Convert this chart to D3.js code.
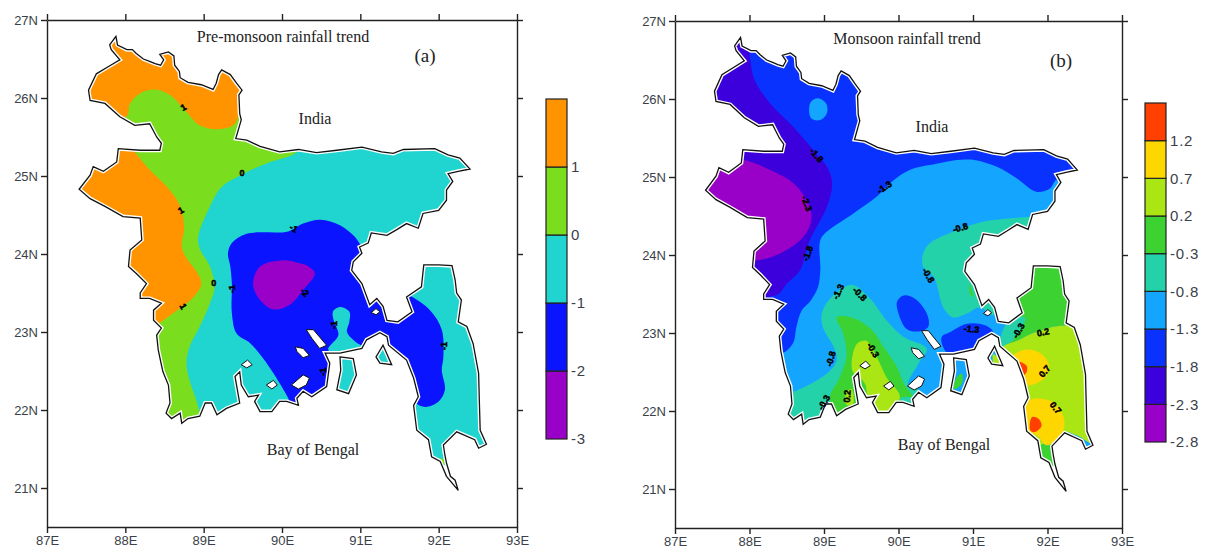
<!DOCTYPE html>
<html>
<head>
<meta charset="utf-8">
<script src="https://cdn.jsdelivr.net/npm/d3@7"></script>
<style>
html, body { margin: 0; padding: 0; background: #fff; }
svg { display: block; }
</style>
</head>
<body>
<div id="chart"></div>
<script>
// all shapes are [lon, lat]
var coast = [[87.88,26.79],[87.90,26.68],[88.02,26.62],[88.09,26.62],[88.14,26.57],[88.23,26.50],[88.31,26.47],[88.38,26.44],[88.45,26.42],[88.49,26.49],[88.44,26.56],[88.55,26.59],[88.62,26.54],[88.63,26.42],[88.69,26.34],[88.70,26.26],[88.80,26.20],[88.97,26.17],[89.12,26.11],[89.16,26.19],[89.19,26.30],[89.23,26.36],[89.34,26.30],[89.42,26.19],[89.49,26.10],[89.45,26.04],[89.46,25.80],[89.48,25.72],[89.41,25.48],[89.55,25.46],[89.72,25.38],[89.97,25.31],[90.21,25.34],[90.44,25.30],[90.70,25.33],[91.02,25.37],[91.27,25.31],[91.42,25.29],[91.55,25.34],[91.95,25.35],[92.12,25.27],[92.27,25.23],[92.40,25.09],[92.25,25.06],[92.12,25.03],[92.18,24.93],[92.10,24.82],[92.10,24.69],[92.00,24.56],[91.80,24.52],[91.74,24.33],[91.59,24.39],[91.46,24.31],[91.34,24.24],[91.14,24.27],[91.10,24.14],[90.99,24.09],[91.02,24.01],[90.91,23.90],[90.89,23.79],[91.02,23.62],[91.12,23.35],[91.21,23.43],[91.29,23.33],[91.34,23.15],[91.48,23.13],[91.66,23.26],[91.59,23.45],[91.78,23.58],[91.81,23.86],[92.00,23.86],[92.17,23.85],[92.21,23.67],[92.23,23.50],[92.29,23.41],[92.25,23.13],[92.36,23.07],[92.44,22.85],[92.51,22.47],[92.52,22.09],[92.53,21.74],[92.61,21.56],[92.51,21.51],[92.46,21.62],[92.23,21.72],[92.06,21.55],[92.08,21.42],[92.10,21.32],[92.15,21.15],[92.21,21.10],[92.25,20.97],[92.10,21.15],[92.02,21.34],[91.91,21.40],[91.87,21.62],[91.72,21.74],[91.68,22.06],[91.74,22.17],[91.68,22.41],[91.59,22.64],[91.36,22.83],[91.34,22.94],[91.25,22.99],[91.08,22.90],[91.02,22.79],[90.74,22.73],[90.55,22.73],[90.61,22.60],[90.57,22.30],[90.38,22.17],[90.27,22.24],[90.19,22.15],[90.21,22.06],[90.06,22.11],[89.97,22.11],[89.87,21.98],[89.72,21.98],[89.65,22.11],[89.70,22.19],[89.57,22.17],[89.48,22.32],[89.46,22.49],[89.40,22.43],[89.46,22.09],[89.29,22.02],[89.17,21.94],[89.10,22.09],[89.02,22.09],[88.95,21.92],[88.80,21.89],[88.72,21.83],[88.70,21.96],[88.59,21.89],[88.52,21.96],[88.57,22.09],[88.55,22.32],[88.48,22.49],[88.46,22.58],[88.42,22.77],[88.40,22.96],[88.46,23.05],[88.36,23.15],[88.36,23.28],[88.46,23.37],[88.31,23.43],[88.19,23.43],[88.19,23.50],[88.27,23.62],[88.14,23.75],[88.04,23.84],[88.06,24.05],[88.21,24.18],[88.19,24.46],[87.97,24.48],[87.74,24.61],[87.55,24.71],[87.41,24.83],[87.55,25.01],[87.59,25.12],[87.72,25.06],[87.89,25.18],[87.91,25.35],[88.19,25.33],[88.44,25.33],[88.46,25.42],[88.40,25.50],[88.31,25.67],[88.12,25.65],[87.93,25.76],[87.74,25.93],[87.55,25.97],[87.53,26.10],[87.63,26.31],[87.78,26.40],[87.93,26.49],[87.82,26.62],[87.80,26.68]];
var bhola = [[90.74,22.68],[90.91,22.66],[90.95,22.45],[90.85,22.21],[90.70,22.26],[90.75,22.51]];
var sandwip = [[91.29,22.83],[91.40,22.58],[91.25,22.60],[91.20,22.68]];
var holes = [
    [[90.31,23.03],[90.40,23.03],[90.57,22.83],[90.48,22.79],[90.38,22.92]],
    [[90.17,22.81],[90.27,22.79],[90.35,22.70],[90.27,22.67],[90.19,22.75]],
    [[90.12,22.32],[90.27,22.45],[90.35,22.41],[90.31,22.32],[90.21,22.27]],
    [[89.48,22.58],[89.56,22.64],[89.62,22.58],[89.55,22.54]],
    [[89.80,22.32],[89.89,22.38],[89.94,22.32],[89.87,22.27]],
    [[91.14,23.25],[91.20,23.30],[91.25,23.26],[91.20,23.22]]
];
var tipBlank = [[91.90,21.33],[92.13,21.28],[92.40,21.28],[92.40,20.90],[91.90,20.90]];

// panel a contours
var preGreen = [[90.23,25.50],[90.19,25.31],[89.80,25.16],[89.51,25.03],[89.23,24.86],[89.08,24.61],[88.93,24.22],[88.95,24.07],[89.08,23.84],[89.14,23.58],[89.08,23.37],[88.95,23.07],[88.82,22.81],[88.78,22.60],[88.82,22.38],[88.95,21.96],[88.95,21.60],[87.20,21.60],[87.20,26.90],[90.23,26.90]];
var preOrangeNorth = [[88.01,25.76],[88.06,25.93],[88.19,26.06],[88.38,26.11],[88.57,26.04],[88.74,25.87],[88.95,25.65],[89.16,25.60],[89.38,25.65],[89.48,25.83],[89.70,26.00],[89.70,26.90],[87.20,26.90],[87.20,25.76]];
var preOrangeWest = [[88.06,25.38],[88.10,25.33],[88.31,25.08],[88.55,24.84],[88.70,24.61],[88.75,24.35],[88.72,24.09],[88.78,23.95],[88.91,23.77],[88.97,23.62],[88.87,23.45],[88.61,23.24],[88.43,23.11],[88.36,23.05],[87.20,23.05],[87.20,25.38]];
var preBlue = [[90.08,24.29],[90.27,24.39],[90.49,24.44],[90.74,24.37],[90.93,24.22],[91.02,24.09],[91.06,24.05],[91.17,23.67],[91.51,23.54],[91.63,23.47],[91.89,23.28],[92.04,23.03],[92.06,22.68],[92.04,22.51],[92.08,22.26],[92.00,22.11],[91.83,22.04],[91.70,22.10],[91.63,22.38],[91.51,22.64],[91.36,22.81],[91.25,23.00],[91.02,22.81],[90.74,22.77],[90.62,22.74],[90.66,22.60],[90.64,22.00],[90.14,22.00],[90.08,22.15],[89.89,22.47],[89.76,22.66],[89.59,22.86],[89.42,22.98],[89.36,23.24],[89.36,23.62],[89.34,23.84],[89.31,24.01],[89.36,24.14],[89.55,24.26]];
var preCyanIslet = [[90.74,23.32],[90.86,23.26],[90.86,23.13],[90.83,23.00],[90.93,22.88],[91.04,22.79],[90.87,22.68],[90.59,22.77],[90.72,22.96],[90.66,23.15],[90.65,23.26]];
var prePurple = [[90.02,23.92],[89.72,23.84],[89.63,23.62],[89.72,23.41],[89.89,23.29],[90.10,23.35],[90.27,23.54],[90.42,23.75],[90.34,23.84],[90.23,23.88]];
var preGreenTip = [[91.98,21.38],[92.08,21.36],[92.07,21.30]];

// panel b contours
var monIndigo = [[88.01,26.50],[88.07,26.24],[88.28,25.94],[88.59,25.64],[88.86,25.34],[89.04,25.13],[89.11,24.92],[89.04,24.62],[88.81,24.19],[88.70,23.85],[88.66,23.78],[88.50,23.63],[88.39,23.50],[88.19,23.46],[87.20,23.46],[87.20,26.90],[87.95,26.90]];
var monPurple = [[87.90,25.22],[88.28,25.09],[88.59,24.92],[88.79,24.66],[88.83,24.45],[88.72,24.23],[88.45,24.04],[88.10,23.93],[87.20,23.93],[87.20,25.22]];
var monLightBlue = [[88.95,23.80],[88.92,23.59],[88.81,23.40],[88.70,23.29],[88.63,23.08],[88.59,22.88],[88.48,22.76],[88.27,22.69],[88.27,21.58],[92.70,21.58],[92.70,24.83],[92.21,24.83],[92.12,24.96],[92.03,24.85],[91.85,24.81],[91.59,24.98],[91.32,25.13],[91.00,25.22],[90.83,25.22],[90.51,25.17],[90.15,25.09],[89.91,24.94],[89.71,24.75],[89.39,24.53],[89.04,24.30],[88.95,24.19]];
var monBlob = [[88.92,26.01],[89.03,25.94],[89.04,25.82],[88.95,25.73],[88.83,25.75],[88.80,25.88],[88.83,25.97]];
var monTeal = [[91.77,24.49],[91.50,24.47],[91.10,24.42],[90.74,24.30],[90.42,24.15],[90.33,24.02],[90.33,23.85],[90.47,23.72],[90.51,23.63],[90.60,23.33],[90.73,23.20],[90.92,23.25],[91.09,23.33],[91.27,23.23],[91.35,23.50],[91.50,24.00],[91.85,24.35],[91.85,24.50]];
var monTealDelta = [[89.37,23.62],[89.08,23.44],[88.97,23.25],[88.99,23.06],[89.13,22.82],[89.17,22.65],[89.04,22.48],[88.63,22.26],[88.50,22.22],[88.50,21.75],[90.33,21.75],[90.31,22.24],[90.13,22.33],[90.27,22.61],[90.38,22.80],[90.07,22.95],[89.84,23.16],[89.62,23.44]];
var monGreenDelta = [[89.17,23.20],[89.37,23.20],[89.62,23.06],[89.80,22.82],[89.98,22.56],[90.07,22.35],[90.18,22.19],[90.02,22.16],[90.02,21.75],[89.15,21.75],[89.13,21.97],[89.08,22.18],[89.21,22.43],[89.30,22.69],[89.26,22.99]];
var monLimeDelta = [[89.44,22.86],[89.57,22.90],[89.71,22.69],[89.84,22.43],[90.02,22.18],[89.84,21.97],[89.62,21.97],[89.55,22.35],[89.38,22.52]];
var monLimeSpot = [[89.30,22.24],[89.37,22.28],[89.39,22.09],[89.30,22.08]];
var monLake = [[90.07,23.48],[90.22,23.44],[90.38,23.25],[90.40,23.08],[90.27,23.02],[90.11,23.05],[90.00,23.25],[89.98,23.40]];
var monBand = [[90.58,22.95],[90.69,23.01],[90.92,23.12],[91.16,23.10],[91.27,23.01],[91.16,22.82],[90.87,22.71],[90.71,22.69],[90.60,22.82]];
var monGreenEast = [[91.76,23.89],[92.30,23.89],[92.39,23.12],[92.28,23.10],[92.08,23.08],[91.81,23.00],[91.59,22.90],[91.40,22.82],[91.59,23.16],[91.63,23.55]];
var monTealEast = [[91.47,23.14],[91.70,23.20],[91.65,23.05],[91.39,22.80],[91.36,22.88]];
var monLimeEast = [[92.70,23.12],[92.28,23.10],[92.08,23.08],[91.81,23.00],[91.59,22.90],[91.40,22.82],[91.30,22.60],[91.50,21.54],[91.94,21.54],[92.10,21.56],[92.21,21.73],[92.39,21.69],[92.66,21.58]];
var monGreenTip = [[91.90,21.56],[92.12,21.55],[92.12,21.25],[91.92,21.30]];
var monYellowNorth = [[91.56,22.73],[91.74,22.79],[91.92,22.73],[92.02,22.58],[91.97,22.43],[91.76,22.33],[91.68,22.35],[91.59,22.56],[91.50,22.60]];
var monYellowSouth = [[91.70,22.11],[91.86,22.16],[92.08,22.11],[92.21,21.94],[92.21,21.75],[91.99,21.56],[91.86,21.69],[91.72,21.75],[91.68,21.98]];
var monRedNorth = [[91.61,22.63],[91.72,22.58],[91.72,22.50],[91.65,22.44],[91.60,22.52]];
var monRedSouth = [[91.79,21.92],[91.88,21.90],[91.92,21.81],[91.83,21.73],[91.77,21.75]];
var monBholaGreen = [[90.78,22.43],[90.85,22.48],[90.85,22.35],[90.74,22.28]];
var monSandwipLime = [[91.27,22.73],[91.36,22.65],[91.36,22.58],[91.28,22.60]];
var monGreenSliver = [[90.95,23.63],[91.01,23.46],[90.96,23.50]];

// contour labels: [lon, lat, text, angle]
var preLabels = [[88.74,25.88,"1",-30],[89.49,25.04,"0",0],[88.71,24.56,"1",-30],[90.15,24.33,"-1",30],[88.74,23.33,"1",60],[89.13,23.63,"0",0],[89.36,23.55,"-1",-90],[90.29,23.51,"-2",45],[90.66,23.09,"-1",-90],[92.07,22.82,"-1",-90],[90.52,22.49,"-1",-90]];
var monLabels = [[88.90,25.28,"-1.8",50],[89.81,24.87,"-1.3",-35],[88.77,24.66,"-2.3",70],[88.78,24.02,"-1.8",-70],[90.83,24.35,"-0.8",-15],[90.40,23.74,"-0.8",60],[89.19,23.53,"-1.3",-65],[89.48,23.50,"-0.8",45],[89.09,22.67,"-0.8",-75],[89.66,22.78,"-0.3",60],[89.00,22.11,"-0.3",-60],[89.31,22.19,"0.2",-85],[90.98,23.05,"-1.3",5],[91.61,23.03,"-0.3",-60],[91.94,23.01,"0.2",-10],[91.96,22.51,"0.7",-50],[92.11,22.04,"0.7",50]];

// colour bars
var preLevels = [-3,-2,-1,0,1,2];
var preColors = ["#9900c8","#0a14ff","#20d4d0","#7add1e","#ff9400"];
var monLevels = [-2.8,-2.3,-1.8,-1.3,-0.8,-0.3,0.2,0.7,1.2,1.7];
var monColors = ["#9900c8","#3c00dc","#0a32ff","#14a5ff","#24d2aa","#3cd232","#aae614","#ffd700","#ff4000"];

var lonTicks = [87,88,89,90,91,92,93];
var latTicks = [21,22,23,24,25,26,27];

var svg = d3.select("#chart").append("svg").attr("width", 1206).attr("height", 552);

function drawPanel(cfg) {
    var x = d3.scaleLinear().domain([87, 93]).range([cfg.left, cfg.right]);
    var y = d3.scaleLinear().domain([20.5, 27]).range([cfg.bottom, cfg.top]);
    var g = svg.append("g");

    var straight = d3.line().x(function(d) { return x(d[0]); }).y(function(d) { return y(d[1]); }).curve(d3.curveLinearClosed);
    var smooth = d3.line().x(function(d) { return x(d[0]); }).y(function(d) { return y(d[1]); }).curve(d3.curveCatmullRomClosed.alpha(0.5));

    g.append("clipPath").attr("id", cfg.id + "-land")
        .append("path").attr("d", straight(coast) + straight(bhola) + straight(sandwip));

    var zones = g.append("g").attr("clip-path", "url(#" + cfg.id + "-land)");
    zones.append("rect")
        .attr("x", cfg.left).attr("y", cfg.top)
        .attr("width", cfg.right - cfg.left).attr("height", cfg.bottom - cfg.top)
        .attr("fill", cfg.base);
    cfg.layers.forEach(function(l) {
        zones.append("path").attr("d", smooth(l[0])).attr("fill", l[1]);
    });
    zones.append("path").attr("d", straight(tipBlank)).attr("fill", "#fff");

    // white rim just inside the black coast, the grid never quite reaches it
    [coast, bhola, sandwip].forEach(function(shape) {
        g.append("path").attr("d", straight(shape)).attr("fill", "none").attr("stroke", "#fff").attr("stroke-width", 4);
    });
    [coast, bhola, sandwip].forEach(function(shape) {
        g.append("path").attr("d", straight(shape)).attr("fill", "none").attr("stroke", "#111").attr("stroke-width", 1.3);
    });
    holes.forEach(function(shape) {
        g.append("path").attr("d", straight(shape)).attr("fill", "#fff").attr("stroke", "#111").attr("stroke-width", 1);
    });

    g.selectAll(".clabel").data(cfg.labels).enter().append("text")
        .attr("class", "clabel")
        .attr("transform", function(d) { return "translate(" + x(d[0]) + "," + y(d[1]) + ") rotate(" + d[3] + ")"; })
        .attr("text-anchor", "middle").attr("dy", "0.35em")
        .style("font", "bold 9px 'Liberation Sans'")
        .attr("fill", "#000").attr("stroke", "#000").attr("stroke-width", 0.5)
        .text(function(d) { return d[2]; });

    // axes on all four sides, only bottom and left carry labels
    var sides = [
        [d3.axisBottom(x).tickValues(lonTicks).tickFormat(function(d) { return d + "E"; }), 0, cfg.bottom],
        [d3.axisTop(x).tickValues(lonTicks).tickFormat(""), 0, cfg.top],
        [d3.axisLeft(y).tickValues(latTicks).tickFormat(function(d) { return d + "N"; }), cfg.left, 0],
        [d3.axisRight(y).tickValues(latTicks).tickFormat(""), cfg.right, 0]
    ];
    sides.forEach(function(s) {
        var a = g.append("g")
            .attr("transform", "translate(" + s[1] + "," + s[2] + ")")
            .call(s[0].tickSizeInner(6).tickSizeOuter(0).tickPadding(3));
        a.selectAll("path, line").attr("stroke", "#222").attr("stroke-width", 1.4);
        a.selectAll("text").attr("fill", "#3a3f4a").style("font", "13px 'Liberation Sans'");
    });

    // colour bar
    var c = d3.scaleLinear().domain(d3.extent(cfg.levels)).range([cfg.barBottom, cfg.barTop]);
    cfg.colors.forEach(function(col, i) {
        g.append("rect")
            .attr("x", cfg.barX).attr("width", cfg.barWidth)
            .attr("y", c(cfg.levels[i + 1])).attr("height", c(cfg.levels[i]) - c(cfg.levels[i + 1]))
            .attr("fill", col).attr("stroke", "#222").attr("stroke-width", 1.2);
    });
    g.selectAll(".blabel").data(cfg.levels.slice(0, -1)).enter().append("text")
        .attr("class", "blabel")
        .attr("x", cfg.barX + cfg.barWidth + 4).attr("y", function(d) { return c(d); })
        .attr("dy", "0.35em")
        .attr("fill", "#3a3f4a")
        .style("font", "15px 'Liberation Sans'")
        .style("letter-spacing", "0.8px")
        .text(function(d) { return d; });

    cfg.notes.forEach(function(n) {
        g.append("text")
            .attr("x", n[1]).attr("y", n[2])
            .attr("text-anchor", "middle")
            .attr("fill", "#222")
            .style("font", n[3] + "px 'Liberation Serif'")
            .text(n[0]);
    });
}

drawPanel({
    id: "pre", left: 47, right: 517, top: 20, bottom: 527, base: "#20d4d0",
    layers: [[preGreen, "#7add1e"], [preOrangeNorth, "#ff9400"], [preOrangeWest, "#ff9400"], [preBlue, "#0a14ff"], [preCyanIslet, "#20d4d0"], [prePurple, "#9900c8"], [preGreenTip, "#7add1e"]],
    labels: preLabels,
    levels: preLevels, colors: preColors, barX: 546, barWidth: 21, barTop: 99, barBottom: 439,
    notes: [["Pre-monsoon rainfall trend", 283, 42, 16], ["(a)", 425, 62, 19], ["India", 315, 124, 16], ["Bay of Bengal", 313, 455, 16]]
});

drawPanel({
    id: "mon", left: 675, right: 1122, top: 21, bottom: 528, base: "#0a32ff",
    layers: [[monIndigo, "#3c00dc"], [monPurple, "#9900c8"], [monLightBlue, "#14a5ff"], [monBlob, "#14a5ff"], [monTeal, "#24d2aa"], [monGreenSliver, "#3cd232"], [monTealDelta, "#24d2aa"], [monGreenDelta, "#3cd232"], [monLimeDelta, "#aae614"], [monLimeSpot, "#aae614"], [monLake, "#0a32ff"], [monBand, "#0a32ff"], [monGreenEast, "#3cd232"], [monTealEast, "#24d2aa"], [monLimeEast, "#aae614"], [monGreenTip, "#3cd232"], [monYellowNorth, "#ffd700"], [monYellowSouth, "#ffd700"], [monRedNorth, "#ff4000"], [monRedSouth, "#ff4000"], [monBholaGreen, "#3cd232"], [monSandwipLime, "#aae614"]],
    labels: monLabels,
    levels: monLevels, colors: monColors, barX: 1145, barWidth: 21, barTop: 103, barBottom: 442,
    notes: [["Monsoon rainfall trend", 907, 44, 16], ["(b)", 1061, 67, 19], ["India", 932, 132, 16], ["Bay of Bengal", 944, 450, 16]]
});
</script>
</body>
</html>
